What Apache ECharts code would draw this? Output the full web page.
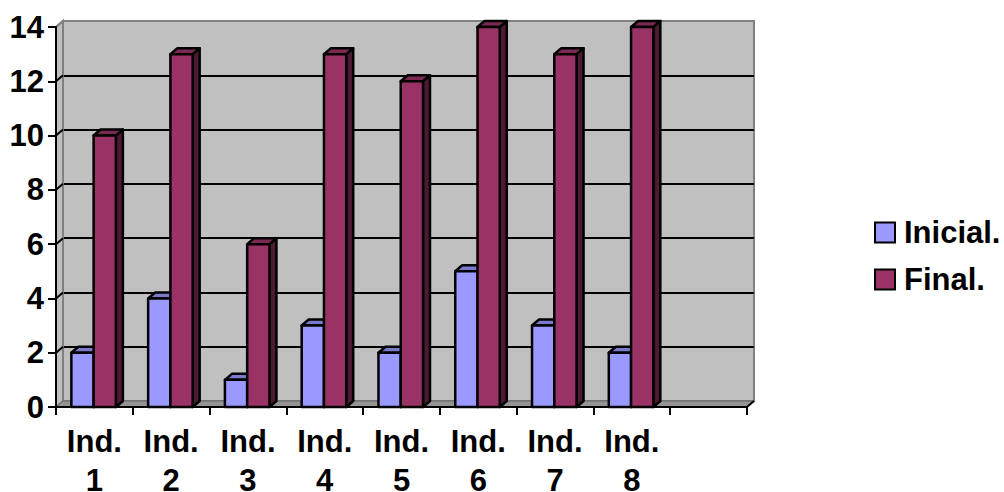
<!DOCTYPE html>
<html>
<head>
<meta charset="utf-8">
<style>
  html, body { margin: 0; padding: 0; background: #fff; }
  #chart { width: 1004px; height: 492px; }
</style>
<script src="https://cdn.jsdelivr.net/npm/echarts@6/dist/echarts.min.js"></script>
</head>
<body>
<div id="chart"></div>
<script>
var categories = ['Ind. 1', 'Ind. 2', 'Ind. 3', 'Ind. 4', 'Ind. 5', 'Ind. 6', 'Ind. 7', 'Ind. 8', ''];
var inicial = [2, 4, 1, 3, 2, 5, 3, 2, null];
var final = [10, 13, 6, 13, 12, 14, 13, 14, null];
var yTicks = [0, 2, 4, 6, 8, 10, 12, 14];

// depth of the fake 3D box, in pixels
var DX = 7;
var DY = 6;
var font = 'Liberation Sans';

function toRows(values) {
  return values.map(function(v, i) { return [i, v]; });
}

// one 3D column: front, top and side faces
function barRenderer(offset, widthShare, front, top, side) {
  return function(params, api) {
    if (api.value(1) == null || isNaN(api.value(1))) return null;
    var band = api.size([1, 0])[0];
    var center = api.coord([api.value(0), 0]);
    var head = api.coord([api.value(0), api.value(1)]);
    var x0 = center[0] - band / 2 + band * offset;
    var x1 = x0 + band * widthShare;
    var y0 = center[1];
    var y1 = head[1];
    var line = { stroke: '#000', lineWidth: 2.5, lineJoin: 'round' };
    function face(points, color) {
      return { type: 'polygon', shape: { points: points }, style: Object.assign({ fill: color }, line) };
    }
    return {
      type: 'group',
      children: [
        face([[x1, y0], [x1 + DX, y0 - DY], [x1 + DX, y1 - DY], [x1, y1]], side),
        face([[x0, y1], [x0 + DX, y1 - DY], [x1 + DX, y1 - DY], [x1, y1]], top),
        face([[x0, y0], [x1, y0], [x1, y1], [x0, y1]], front)
      ]
    };
  };
}

// left wall and floor, taken from the grid rectangle
function renderWalls(params) {
  var r = params.coordSys;
  var l = r.x, t = r.y, b = r.y + r.height, e = r.x + r.width;
  return {
    type: 'group',
    children: [
      { type: 'polygon', shape: { points: [[l, t], [l + DX, t - DY], [l + DX, b - DY], [l, b]] },
        style: { fill: '#c0c0c0', stroke: '#808080', lineWidth: 2 } },
      { type: 'polygon', shape: { points: [[l, b], [l + DX, b - DY], [e + DX, b - DY], [e, b]] },
        style: { fill: '#949494', stroke: '#666', lineWidth: 1 } },
      { type: 'line', shape: { x1: e, y1: b, x2: e + DX, y2: b - DY },
        style: { stroke: '#000', lineWidth: 2 } }
    ]
  };
}

// little diagonals joining the front axes to the back wall
function renderLinks(params, api) {
  var p = api.coord([0, api.value(0)]);
  var x = params.coordSys.x;
  if (api.value(0) === 0) return null;
  return { type: 'line', shape: { x1: x, y1: p[1], x2: x + DX, y2: p[1] - DY },
    style: { stroke: api.value(0) === 14 ? '#808080' : '#000', lineWidth: 2 } };
}

var chart = echarts.init(document.getElementById('chart'), null, { renderer: 'svg' });
chart.setOption({
  animation: false,
  backgroundColor: '#fff',
  legend: {
    orient: 'vertical',
    left: 869,
    top: 212,
    itemWidth: 20,
    itemHeight: 20,
    itemGap: 16,
    icon: 'rect',
    data: [
      { name: 'Inicial.', itemStyle: { color: '#9999ff', borderColor: '#000', borderWidth: 2 } },
      { name: 'Final.', itemStyle: { color: '#993366', borderColor: '#000', borderWidth: 2 } }
    ],
    textStyle: { fontFamily: font, fontWeight: 'bold', fontSize: 31, color: '#000', padding: [0, 0, 0, 4] }
  },
  grid: [
    { left: 56, top: 27, width: 691, height: 380, outerBoundsMode: 'none' },
    { left: 56 + DX, top: 27 - DY, width: 691, height: 380, outerBoundsMode: 'none', show: true,
      backgroundColor: '#c0c0c0', borderColor: '#808080', borderWidth: 2 }
  ],
  xAxis: [
    {
      type: 'category',
      gridIndex: 0,
      data: categories,
      z: 5,
      axisLine: { lineStyle: { color: '#000', width: 2 } },
      axisTick: { show: true, alignWithLabel: false, length: 8, lineStyle: { color: '#000', width: 2 } },
      axisLabel: {
        interval: 0,
        margin: 15,
        fontFamily: font,
        fontWeight: 'bold',
        fontSize: 31,
        lineHeight: 39,
        color: '#000',
        formatter: function(v) { return v.replace(' ', '\n'); }
      }
    },
    { type: 'category', gridIndex: 1, data: categories, show: false }
  ],
  yAxis: [
    {
      type: 'value',
      gridIndex: 0,
      min: 0,
      max: 14,
      interval: 2,
      z: 5,
      splitLine: { show: false },
      axisLine: { show: true, lineStyle: { color: '#000', width: 2 } },
      axisTick: { show: true, length: 8, lineStyle: { color: '#000', width: 2 } },
      axisLabel: { margin: 12, fontFamily: font, fontWeight: 'bold', fontSize: 31, color: '#000' }
    },
    {
      type: 'value',
      gridIndex: 1,
      min: 0,
      max: 14,
      interval: 2,
      axisLine: { show: false },
      axisTick: { show: false },
      axisLabel: { show: false },
      splitLine: { show: true, showMinLine: false, showMaxLine: false, lineStyle: { color: '#000', width: 2 } }
    }
  ],
  series: [
    { type: 'custom', name: 'walls', silent: true, xAxisIndex: 0, yAxisIndex: 0, z: 1,
      data: [[0]], renderItem: renderWalls },
    { type: 'custom', name: 'links', silent: true, xAxisIndex: 0, yAxisIndex: 0, z: 1,
      data: yTicks.map(function(v) { return [v]; }), encode: { y: 0 }, renderItem: renderLinks },
    { type: 'custom', name: 'Inicial.', xAxisIndex: 0, yAxisIndex: 0, z: 2,
      itemStyle: { color: '#9999ff' },
      data: toRows(inicial), encode: { x: 0, y: 1 },
      renderItem: barRenderer(0.2, 0.29, '#9999ff', '#7a7acc', '#4d4d80') },
    { type: 'custom', name: 'Final.', xAxisIndex: 0, yAxisIndex: 0, z: 3,
      itemStyle: { color: '#993366' },
      data: toRows(final), encode: { x: 0, y: 1 },
      renderItem: barRenderer(0.49, 0.29, '#993366', '#7a2952', '#4d1a33') }
  ]
});
window.addEventListener('resize', function() { chart.resize(); });
</script>
</body>
</html>
